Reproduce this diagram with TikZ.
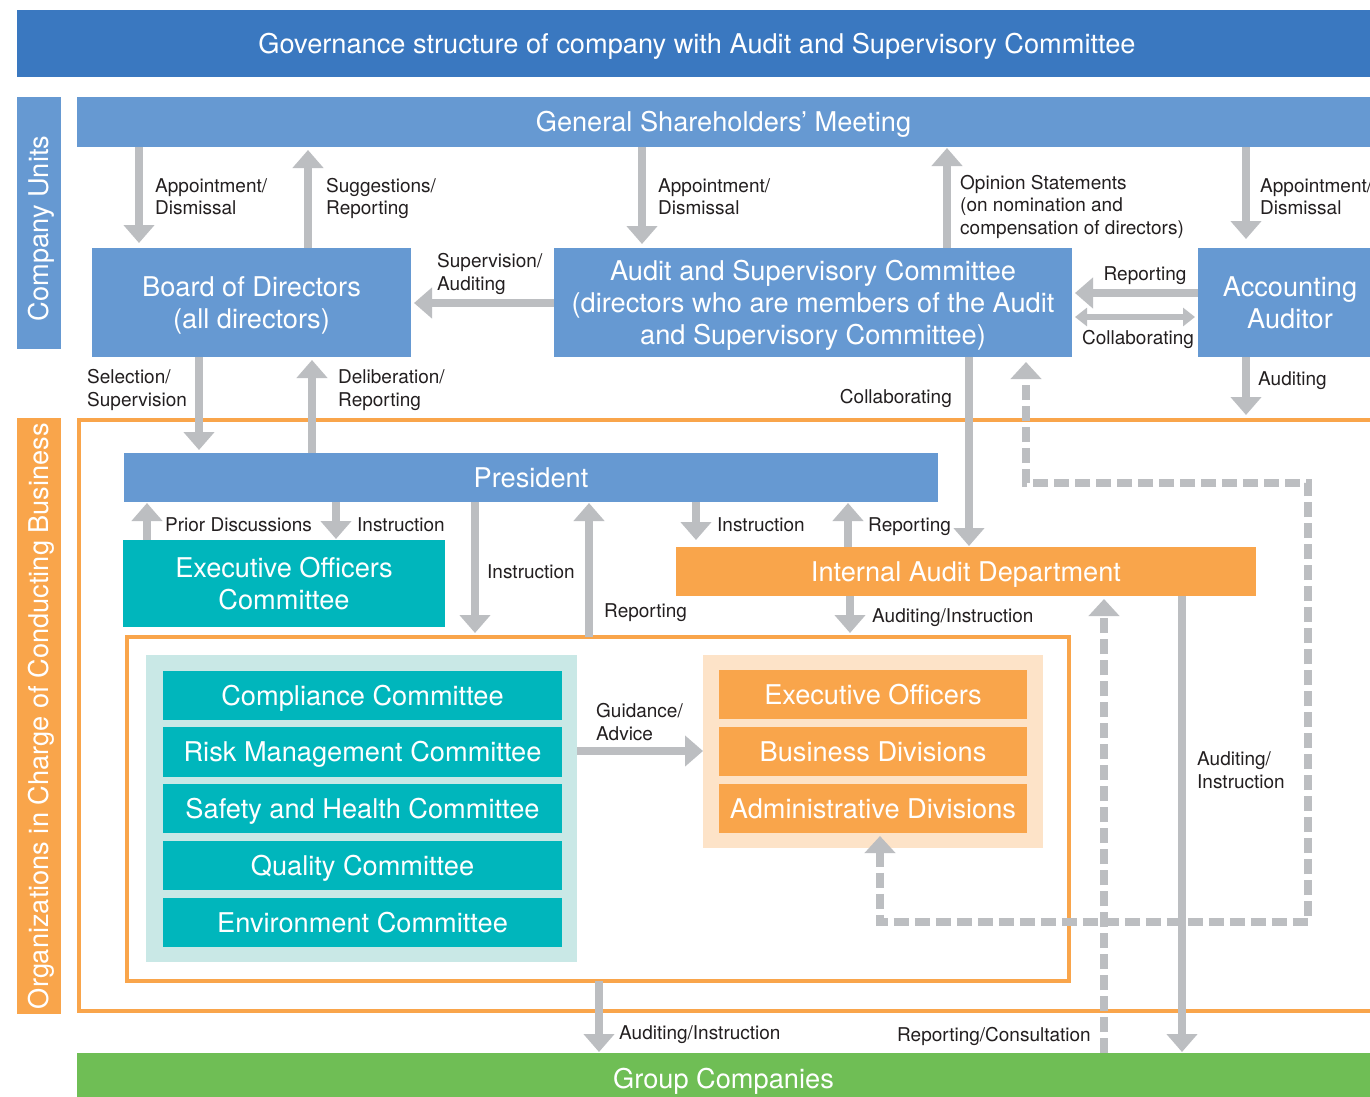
\documentclass[tikz,border=0pt]{standalone}
\usepackage{fontspec}
\setmainfont{TeX Gyre Heros}
\usetikzlibrary{arrows.meta}
\definecolor{titleblue}{HTML}{3A78C0}
\definecolor{midblue}{HTML}{6699D2}
\definecolor{orgc}{HTML}{F9A54B}
\definecolor{tealc}{HTML}{00B6BC}
\definecolor{lightteal}{HTML}{C9E8E6}
\definecolor{lightorg}{HTML}{FDE3C8}
\definecolor{greenc}{HTML}{6FBE55}
\definecolor{arrowgray}{HTML}{BCBEC1}
\definecolor{txtdark}{HTML}{231F20}
\newcommand\boxtxt[1]{\begin{tabular}{@{}c@{}}\rule{0pt}{29.2pt}#1\end{tabular}}
\newcommand\lbltxt[1]{\begin{tabular}{@{}l@{}}\rule{0pt}{20.4pt}#1\end{tabular}}
\tikzset{
  bigtxt/.style={font=\fontsize{27.2}{32}\selectfont},
  lbl/.style={font=\fontsize{19}{22.5}\selectfont, text=txtdark, inner sep=0pt},
  box/.style={inner sep=0pt, outer sep=0pt, text=white, bigtxt},
  frame/.style={draw=orgc, line width=4pt, inner sep=0pt, outer sep=0pt},
  panel/.style={inner sep=0pt, outer sep=0pt},
  arr/.style={draw=arrowgray, line width=8.5pt, -{Triangle[width=30pt,length=18pt]}},
  dbl/.style={draw=arrowgray, line width=5.5pt, {Triangle[width=18pt,length=12pt]}-{Triangle[width=18pt,length=12pt]}},
  darr/.style={draw=arrowgray, line width=7.5pt, dash pattern=on 15pt off 6pt, {Triangle[width=30pt,length=17pt]}-{Triangle[width=30pt,length=17pt]}},
  darrone/.style={draw=arrowgray, line width=7.5pt, dash pattern=on 15pt off 6pt, -{Triangle[width=30pt,length=17pt]}},
}
\begin{document}
\begin{tikzpicture}[x=1pt,y=-1pt]
\useasboundingbox (0,0) rectangle (1370,1096);
\clip (0,0) rectangle (1370,1096);
\fill[white] (0,0) rectangle (1370,1096);

% frames and panels
\node[frame, minimum width=1313pt, minimum height=591pt] (orgf) at (735.5,715.5) {};
\node[frame, minimum width=942pt, minimum height=344pt] (inf) at (598,809) {};
\node[panel, fill=lightteal, minimum width=431pt, minimum height=307pt] (tpan) at (361.5,808.5) {};
\node[panel, fill=lightorg, minimum width=340pt, minimum height=193pt] (opan) at (873,751.5) {};

% title and side bands
\node[box, fill=titleblue, minimum width=1360pt, minimum height=67pt] (title) at (697,43.5) {\boxtxt{Governance structure of company with Audit and Supervisory Committee}};
\node[box, fill=midblue, minimum width=252pt, minimum height=44pt, rotate=90] (cu) at (39,223) {\boxtxt{Company Units\kern11pt}};
\node[box, fill=orgc, minimum width=596pt, minimum height=44pt, rotate=90] (oc) at (39,716) {\boxtxt{Organizations in Charge of Conducting Business}};

% company units
\node[box, fill=midblue, minimum width=1293pt, minimum height=50pt] (gsm) at (723.5,122) {\boxtxt{General Shareholders’ Meeting}};
\node[box, fill=midblue, minimum width=319pt, minimum height=109pt] (bod) at (251.5,302.5) {\boxtxt{Board of Directors\\(all directors)}};
\node[box, fill=midblue, minimum width=518pt, minimum height=109pt] (asc) at (813,302.5) {\boxtxt{Audit and Supervisory Committee\\(directors who are members of the Audit\\and Supervisory Committee)}};
\node[box, fill=midblue, minimum width=184pt, minimum height=109pt] (aa) at (1290,302.5) {\boxtxt{Accounting\\Auditor}};

% business organizations
\node[box, fill=midblue, minimum width=814pt, minimum height=49pt] (pres) at (531,477.5) {\boxtxt{President}};
\node[box, fill=tealc, minimum width=322pt, minimum height=87pt] (eoc) at (284,583.5) {\boxtxt{Executive Officers\\Committee}};
\node[box, fill=orgc, minimum width=580pt, minimum height=49pt] (iad) at (966,571.5) {\boxtxt{Internal Audit Department}};

\node[box, fill=tealc, minimum width=399pt, minimum height=49pt] (comp) at (362.5,695.5) {\boxtxt{Compliance Committee}};
\node[box, fill=tealc, minimum width=399pt, minimum height=50pt] (risk) at (362.5,752) {\boxtxt{Risk Management Committee}};
\node[box, fill=tealc, minimum width=399pt, minimum height=49pt] (safe) at (362.5,808.5) {\boxtxt{Safety and Health Committee}};
\node[box, fill=tealc, minimum width=399pt, minimum height=49pt] (qual) at (362.5,865.5) {\boxtxt{Quality Committee}};
\node[box, fill=tealc, minimum width=399pt, minimum height=49pt] (env) at (362.5,922.5) {\boxtxt{Environment Committee}};

\node[box, fill=orgc, minimum width=308pt, minimum height=49pt] (exo) at (873,694.5) {\boxtxt{Executive Officers}};
\node[box, fill=orgc, minimum width=308pt, minimum height=49pt] (bus) at (873,751.5) {\boxtxt{Business Divisions}};
\node[box, fill=orgc, minimum width=308pt, minimum height=49pt] (adm) at (873,808.5) {\boxtxt{Administrative Divisions}};

\node[box, fill=greenc, minimum width=1293pt, minimum height=52pt] (gc) at (723.5,1079) {\boxtxt{Group Companies}};

% arrows: company units
\draw[arr, shorten >=5pt] (139,0 |- gsm.south) -- (139,0 |- bod.north);
\draw[arr, shorten >=3pt] (308,0 |- bod.north) -- (308,0 |- gsm.south);
\draw[arr, shorten >=4pt] (642,0 |- gsm.south) -- (642,0 |- asc.north);
\draw[arr, shorten >=1pt] (947,0 |- asc.north) -- (947,0 |- gsm.south);
\draw[arr, shorten >=9pt] (1246,0 |- gsm.south) -- (1246,0 |- aa.north);
\draw[arr, shorten >=3pt] (0,303 -| asc.west) -- (0,303 -| bod.east);
\draw[arr, shorten >=3pt] (0,293 -| aa.west) -- (0,293 -| asc.east);
\draw[dbl, shorten <=3pt, shorten >=3pt] (0,317 -| asc.east) -- (0,317 -| aa.west);
\draw[arr, shorten >=5pt] (1246,0 |- aa.south) -- (1246,0 |- orgf.north);
\draw[arr, shorten >=3pt] (199,0 |- bod.south) -- (199,0 |- pres.north);
\draw[arr, shorten >=3pt] (312,0 |- pres.north) -- (312,0 |- bod.south);
\draw[arr, shorten >=1pt] (969,0 |- asc.south) -- (969,0 |- iad.north);

% arrows: business
\draw[arr, shorten >=1pt] (147,0 |- eoc.north) -- (147,0 |- pres.south);
\draw[arr, shorten >=1pt] (336,0 |- pres.south) -- (336,0 |- eoc.north);
\draw[arr, shorten >=4pt] (475,0 |- pres.south) -- (475,0 |- inf.north);
\draw[arr, shorten >=1pt] (589,0 |- inf.north) -- (589,0 |- pres.south);
\draw[arr, shorten >=7pt] (696,0 |- pres.south) -- (696,0 |- iad.north);
\draw[arr, shorten >=1pt] (848,0 |- iad.north) -- (848,0 |- pres.south);
\draw[arr, shorten >=4pt] (850,0 |- iad.south) -- (850,0 |- inf.north);
\draw[arr] (0,751 -| tpan.east) -- (0,751 -| opan.west);
\draw[arr, shorten >=1pt] (1182,0 |- iad.south) -- (1182,0 |- gc.north);
\draw[arr, shorten >=1pt] (599,0 |- inf.south) -- (599,0 |- gc.north);

% dashed arrows
\draw[darr, shorten <=3pt, shorten >=5pt] (880,0 |- adm.south) |- (1308,922) |- (1026,483) -- (1026,0 |- asc.south);
\draw[darrone, shorten >=3pt] (1104,0 |- gc.north) -- (1104,0 |- iad.south);

% labels
\node[lbl, anchor=west] (l1) at (155,196.5) {\lbltxt{Appointment/\\Dismissal}};
\node[lbl, anchor=west] (l2) at (326,196.5) {\lbltxt{Suggestions/\\Reporting}};
\node[lbl, anchor=west] (l3) at (658,196.5) {\lbltxt{Appointment/\\Dismissal}};
\node[lbl, anchor=west] (l4) at (960,205) {\lbltxt{Opinion Statements\\(on nomination and\\compensation of directors)}};
\node[lbl, anchor=west] (l5) at (1260,196.5) {\lbltxt{Appointment/\\Dismissal}};
\node[lbl, anchor=west] (l6) at (437,272) {\lbltxt{Supervision/\\Auditing}};
\node[lbl] (l7) at (1145,274) {\lbltxt{Reporting}};
\node[lbl] (l8) at (1138,338) {\lbltxt{Collaborating}};
\node[lbl, anchor=west] (l9) at (1258,379) {\lbltxt{Auditing}};
\node[lbl, anchor=west] (l10) at (87,388) {\lbltxt{Selection/\\Supervision}};
\node[lbl, anchor=west] (l11) at (338,388) {\lbltxt{Deliberation/\\Reporting}};
\node[lbl, anchor=east] (l12) at (952,397) {\lbltxt{Collaborating}};
\node[lbl, anchor=west] (l13) at (165,525) {\lbltxt{Prior Discussions}};
\node[lbl, anchor=west] (l14) at (357,525) {\lbltxt{Instruction}};
\node[lbl, anchor=west] (l15) at (487,572) {\lbltxt{Instruction}};
\node[lbl, anchor=west] (l16) at (604,611) {\lbltxt{Reporting}};
\node[lbl, anchor=west] (l17) at (717,525) {\lbltxt{Instruction}};
\node[lbl, anchor=west] (l18) at (868,525) {\lbltxt{Reporting}};
\node[lbl, anchor=west] (l19) at (872,616) {\lbltxt{Auditing/Instruction}};
\node[lbl, anchor=west] (l20) at (596,722) {\lbltxt{Guidance/\\Advice}};
\node[lbl, anchor=west] (l21) at (1197,770) {\lbltxt{Auditing/\\Instruction}};
\node[lbl, anchor=west] (l22) at (619,1033) {\lbltxt{Auditing/Instruction}};
\node[lbl, anchor=east] (l23) at (1091,1035) {\lbltxt{Reporting/Consultation}};
\end{tikzpicture}
\end{document}
